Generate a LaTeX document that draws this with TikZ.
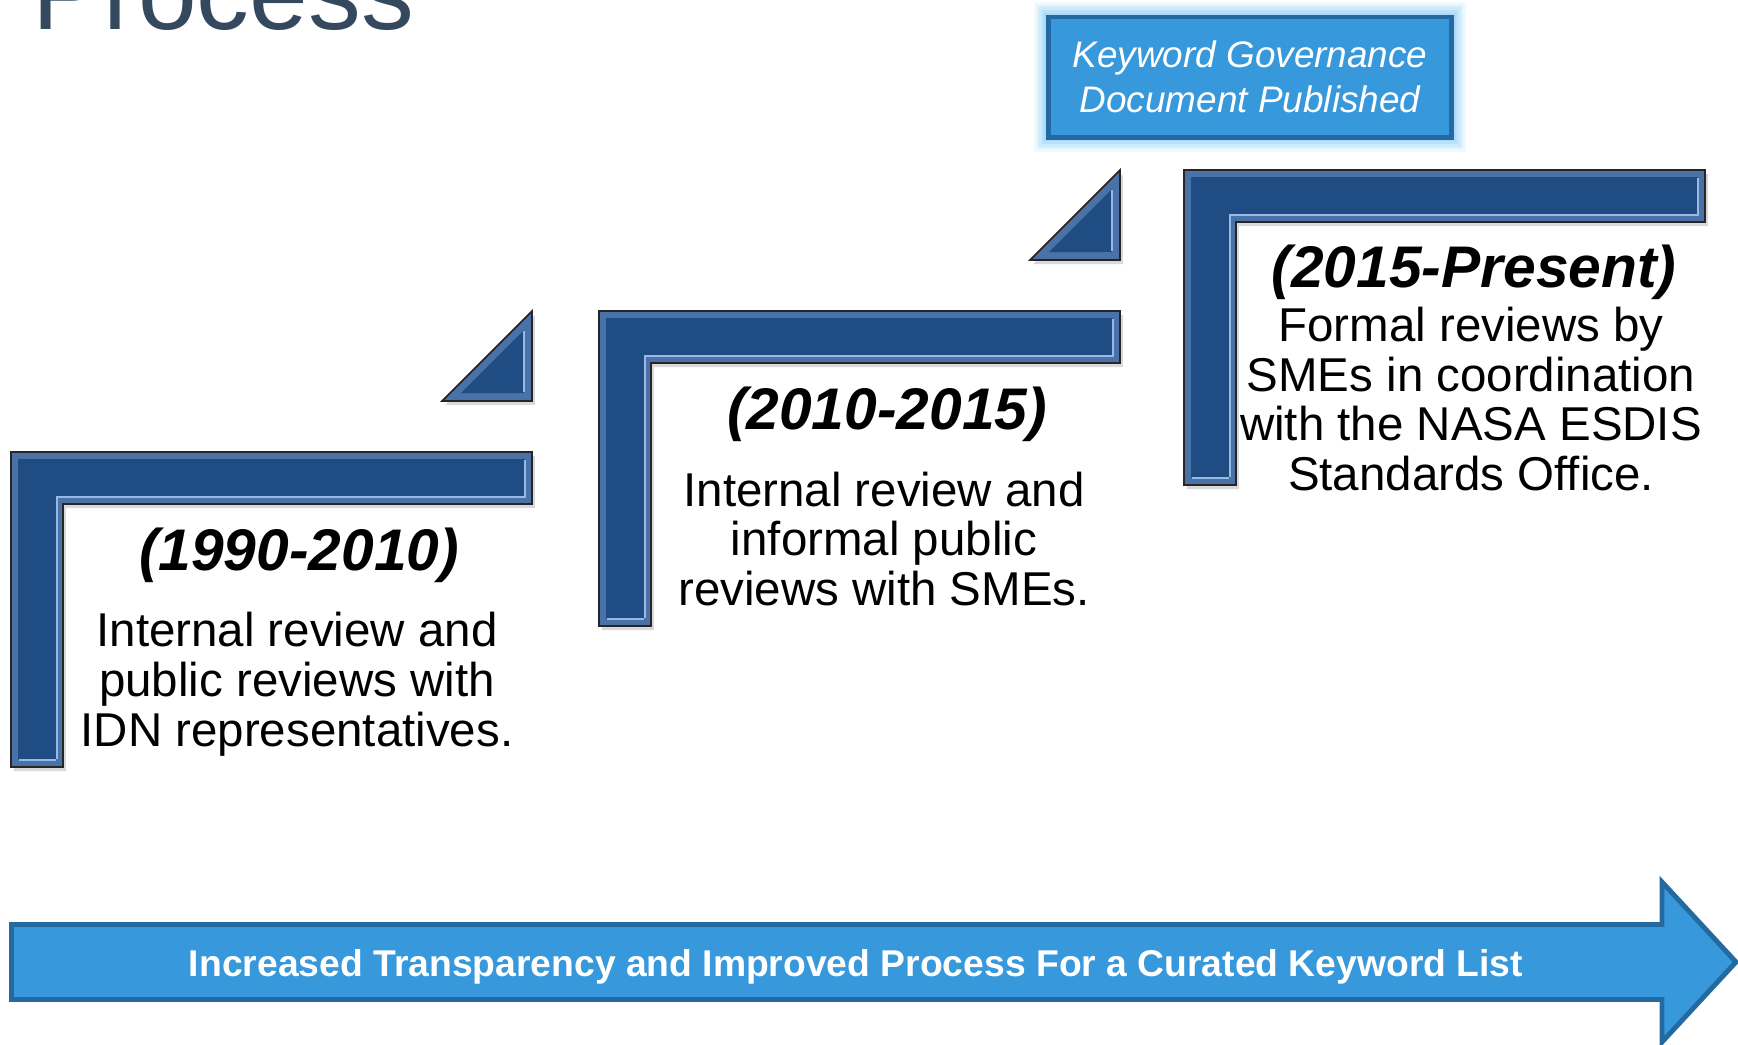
\documentclass[tikz,border=0pt]{standalone}
\usepackage{fontspec}
\setmainfont{Liberation Sans}
\usetikzlibrary{shadows}

\definecolor{bevelmid}{RGB}{74,114,168}
\definecolor{bevelcore}{RGB}{31,77,131}
\definecolor{bevellight}{RGB}{150,186,228}
\definecolor{trendfill}{RGB}{55,152,219}
\definecolor{trendline}{RGB}{36,106,160}
\definecolor{glowblue}{RGB}{150,212,248}
\definecolor{titleslate}{RGB}{52,73,94}

\tikzset{
  stairedge/.style={fill=bevelmid, draw=black!85, line width=0.5pt,
    drop shadow={opacity=0.3, shadow xshift=0.8pt, shadow yshift=-1.2pt}},
  staircore/.style={fill=bevelcore},
  stairshine/.style={draw=bevellight, line width=0.7pt},
  yearlabel/.style={font=\fontsize{16.7}{18}\selectfont\bfseries\itshape, inner sep=0pt},
  reviewtext/.style={font=\fontsize{13.5}{14.2}\selectfont, align=center, inner sep=0pt},
  pubbox/.style={draw=trendline, fill=trendfill, line width=1.4pt, text=white,
    minimum width=4.02cm, minimum height=1.2cm, align=center,
    font=\fontsize{10.5}{12.8}\selectfont\itshape,
    preaction={draw=glowblue, draw opacity=0.15, line width=8.5pt, rounded corners=7pt},
    preaction={draw=glowblue, draw opacity=0.2, line width=7pt, rounded corners=6pt},
    preaction={draw=glowblue, draw opacity=0.25, line width=5.5pt, rounded corners=5pt},
    preaction={draw=glowblue, draw opacity=0.35, line width=4pt, rounded corners=3pt},
    preaction={draw=glowblue, draw opacity=0.5, line width=2.5pt}},
}

% L-shaped step, top-left corner at (#1,#2)
\newcommand{\stepL}[2]{%
  \path[stairedge] (#1,#2) -- ++(521,0) -- ++(0,52) -- ++(-469,0) -- ++(0,263) -- ++(-52,0) -- cycle;
  \fill[staircore] ({#1+7},{#2+7}) -- ({#1+514},{#2+7}) -- ({#1+514},{#2+45}) -- ({#1+45},{#2+45})
    -- ({#1+45},{#2+308}) -- ({#1+7},{#2+308}) -- cycle;
  \draw[stairshine] ({#1+514},{#2+8}) -- ({#1+514},{#2+45}) -- ({#1+46},{#2+45}) -- ({#1+46},{#2+307});
  \draw[stairshine] ({#1+8},{#2+308}) -- ({#1+45},{#2+308});
}
% small triangle, right edge at x=#1, top at y=#2
\newcommand{\stepT}[2]{%
  \path[stairedge] ({#1-90},{#2+90}) -- (#1,{#2+90}) -- (#1,#2) -- cycle;
  \fill[staircore] ({#1-71},{#2+82}) -- ({#1-8},{#2+82}) -- ({#1-8},{#2+19}) -- cycle;
  \draw[stairshine] ({#1-8},{#2+20}) -- ({#1-8},{#2+81});
}

\begin{document}
\begin{tikzpicture}[x=0.01cm, y=-0.01cm]
  \useasboundingbox (0,0) rectangle (1738,1044);

  \node[anchor=base west, inner sep=0pt, text=titleslate, font=\fontsize{30}{32}\selectfont] (title) at (32,29) {Process};

  % the three steps
  \stepL{11}{452}
  \stepL{599}{311}
  \stepL{1184}{170}
  \stepT{532}{311}
  \stepT{1120}{170}

  \node[yearlabel] (y1990) at (299,555) {(1990-2010)};
  \node[reviewtext] (rev1) at (297,684) {Internal review and\\public reviews with\\IDN representatives.};

  \node[yearlabel] (y2010) at (887,414) {(2010-2015)};
  \node[reviewtext] (rev2) at (884,539) {Internal review and\\informal public\\reviews with SMEs.};

  \node[yearlabel] (y2015) at (1474,272) {(2015-Present)};
  \node[reviewtext] (rev3) at (1471,399) {Formal reviews by\\SMEs in coordination\\with the NASA ESDIS\\Standards Office.};

  \node[pubbox] (pub) at (1250,77) {Keyword Governance\\Document Published};

  % bottom arrow
  \draw[fill=trendfill, draw=trendline, line width=1.4pt, line join=miter]
    (11.5,924.5) -- (1662,924.5) -- (1662,882) -- (1736,962) -- (1662,1042)
    -- (1662,999.5) -- (11.5,999.5) -- cycle;
  \node[text=white, inner sep=0pt, font=\fontsize{10.6}{12}\selectfont\bfseries] (trend) at (856,967)
    {Increased Transparency and Improved Process For a Curated Keyword List};
\end{tikzpicture}
\end{document}
